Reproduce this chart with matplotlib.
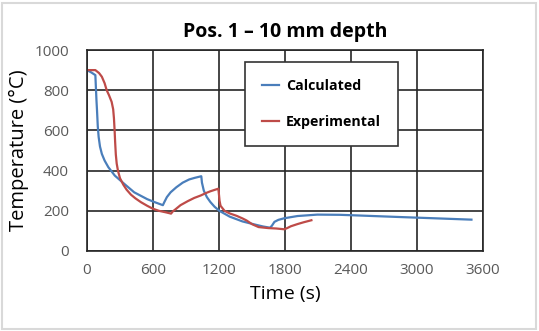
import matplotlib
matplotlib.use("Agg")
import matplotlib.pyplot as plt
from matplotlib.patches import Rectangle

# calculated temperature history (s, degC)
calc_t = [0, 40, 76, 82, 86, 91, 98, 106, 118, 135, 160, 194, 253, 341, 429,
          547, 620, 690, 700, 726, 760, 812, 870, 929, 980, 1039, 1045, 1062,
          1090, 1121, 1160, 1203, 1297, 1414, 1531, 1600, 1663, 1680, 1704,
          1740, 1794, 1914, 2094, 2300, 2454, 2844, 3147, 3495]
calc_T = [900, 888, 875, 800, 750, 700, 620, 567, 520, 483, 450, 417, 375,
          333, 292, 258, 242, 228, 240, 268, 292, 317, 340, 356, 364, 372,
          340, 300, 268, 244, 220, 200, 171, 147, 131, 122, 116, 125, 145,
          155, 163, 174, 181, 180, 177, 169, 163, 156]

# measured temperature history
exp_t = [0, 76, 110, 135, 160, 179, 200, 224, 238, 245, 251, 256, 262, 270,
         282, 300, 330, 360, 400, 440, 490, 547, 600, 653, 720, 764, 780, 799,
         850, 916, 975, 1033, 1080, 1121, 1160, 1194, 1198, 1205, 1214, 1250,
         1297, 1360, 1414, 1450, 1502, 1560, 1648, 1720, 1794, 1820, 1853,
         1914, 1970, 2040]
exp_T = [900, 900, 885, 867, 835, 800, 775, 742, 705, 660, 600, 540, 480,
         435, 398, 362, 330, 305, 280, 262, 243, 225, 210, 200, 192, 186,
         197, 205, 228, 248, 264, 276, 288, 297, 304, 310, 290, 250, 225,
         200, 187, 175, 162, 152, 133, 119, 114, 112, 108, 114, 123, 134,
         143, 153]

x_ticks = [0, 600, 1200, 1800, 2400, 3000, 3600]
y_ticks = [0, 200, 400, 600, 800, 1000]

plt.rcParams['font.family'] = ['Open Sans', 'DejaVu Sans']

fig = plt.figure(figsize=(5.39, 3.31), dpi=100)
ax = fig.add_axes([87/539, 1 - 251/331, 396/539, 201/331])

ax.plot(calc_t, calc_T, color='#4a7ebb', lw=1.6, label='Calculated')
ax.plot(exp_t, exp_T, color='#be4b48', lw=1.6, label='Experimental')

ax.set_xlim(0, 3600)
ax.set_ylim(0, 1000)
ax.set_xticks(x_ticks)
ax.set_yticks(y_ticks)
ax.grid(True, color='#262626', lw=1.2)
ax.set_axisbelow(True)
for s in ax.spines.values():
    s.set_color('#262626')
    s.set_linewidth(1.2)
ax.tick_params(length=0, labelsize=11, colors='#595959')
ax.tick_params(axis='y', pad=13)
ax.tick_params(axis='x', pad=9)

ax.set_xlabel('Time (s)', fontsize=14, labelpad=5)
ax.set_ylabel('Temperature (°C)', fontsize=14.5, labelpad=4)
ax.set_title('Pos. 1 – 10 mm depth', fontsize=14, fontweight='bold', pad=9)

leg = ax.legend(loc='upper left', bbox_to_anchor=((245-87)/396, 1 - (62-50)/201),
                frameon=True, fancybox=False, framealpha=1, edgecolor='#333333',
                prop={'weight': 'bold', 'size': 10.2}, handlelength=1.2,
                labelspacing=1.55, borderpad=1.2, handletextpad=0.5,
                borderaxespad=0)
leg.get_frame().set_linewidth(1.2)

fig.patches.append(Rectangle((0.004, 0.006), 0.99, 0.985, transform=fig.transFigure,
                             fill=False, edgecolor='#d9d9d9', lw=1.5))

fig.savefig('out.png', dpi=100)
